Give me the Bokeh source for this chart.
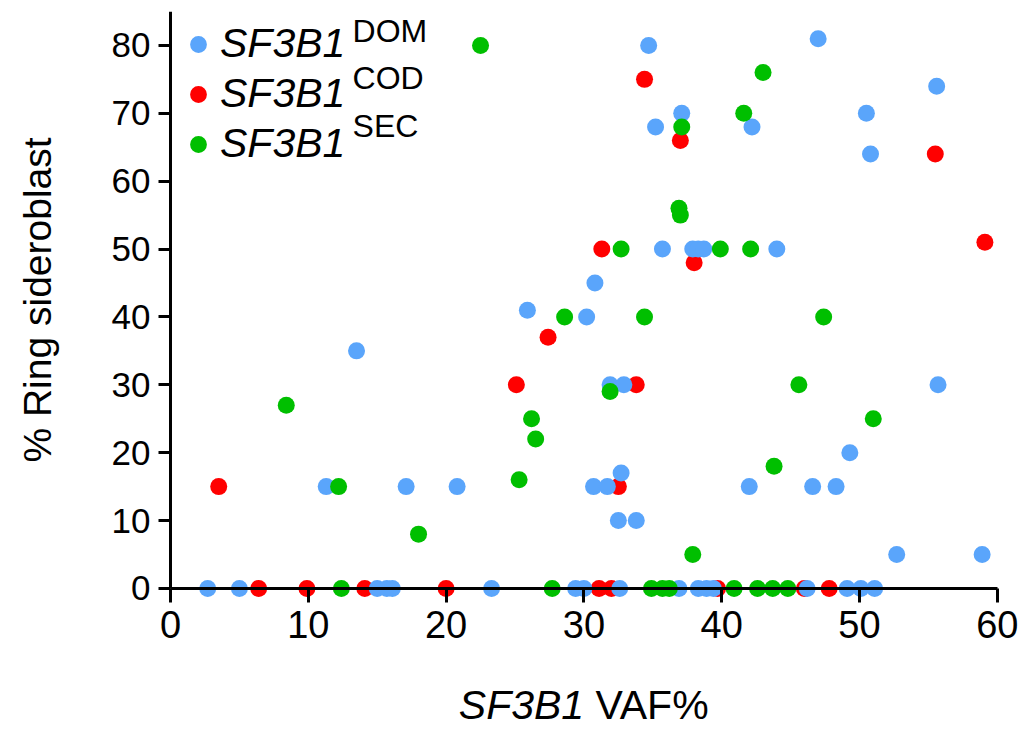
from bokeh.plotting import figure
from bokeh.models import Range1d, Legend, LegendItem, Label, FixedTicker
from bokeh.embed import file_html
from bokeh.resources import INLINE

# ---- data ----
dom_vaf = [34.7, 47.0, 55.6, 37.1, 50.5, 35.2, 42.2, 50.8,
           35.7, 37.9, 38.3, 38.7, 44.0, 30.8, 25.9, 30.2,
           13.5, 31.9, 32.9, 55.7, 49.3, 32.7,
           11.3, 17.1, 20.8, 30.7, 31.7, 42.0, 46.6, 48.3,
           32.5, 33.8, 52.7, 58.9,
           2.7, 5.0, 15.0, 15.7, 16.1, 23.3, 29.4, 30.0, 32.6, 36.9,
           38.3, 38.9, 39.4, 46.2, 49.1, 50.1, 51.1]
dom_rs = [80, 81, 74, 70, 70, 68, 68, 64,
          50, 50, 50, 50, 50, 45, 41, 40,
          35, 30, 30, 30, 20, 17,
          15, 15, 15, 15, 15, 15, 15, 15,
          10, 10, 5, 5,
          0, 0, 0, 0, 0, 0, 0, 0, 0, 0,
          0, 0, 0, 0, 0, 0, 0]

cod_vaf = [34.4, 37.0, 55.5, 59.1, 31.3, 38.0, 27.4, 25.1, 33.8, 3.5, 32.5,
           6.4, 9.9, 14.1, 20.0, 31.1, 32.0, 39.7, 46.0, 47.8]
cod_rs = [75, 66, 64, 51, 50, 48, 37, 30, 30, 15, 15,
          0, 0, 0, 0, 0, 0, 0, 0, 0]

sec_vaf = [22.5, 43.0, 41.6, 37.1, 36.9, 37.0, 32.7, 39.9, 42.1, 28.6, 34.4,
           47.4, 45.6, 31.9, 8.4, 26.2, 51.0, 26.5, 43.8, 25.3, 12.2, 18.0, 37.9,
           12.4, 27.7, 34.9, 35.7, 36.2, 40.9, 42.6, 43.7, 44.8]
sec_rs = [80, 76, 70, 68, 56, 55, 50, 50, 50, 40, 40,
          40, 30, 29, 27, 25, 25, 22, 18, 16, 15, 8, 5,
          0, 0, 0, 0, 0, 0, 0, 0, 0]

x_ticks = [0, 10, 20, 30, 40, 50, 60]
y_ticks = [0, 10, 20, 30, 40, 50, 60, 70, 80]

series_names = ["SF3B1", "SF3B1", "SF3B1"]
series_sup = ["DOM", "COD", "SEC"]
colors = ["#5aa5fb", "#ff0000", "#00bf00"]

FONT = "Liberation Sans"

p = figure(frame_width=1017, frame_height=717,
           x_range=Range1d(-11.974, 61.829), y_range=Range1d(-20.636, 85),
           min_border_left=5, min_border_right=3,
           min_border_top=11, min_border_bottom=6,
           output_backend="svg", toolbar_location=None)
p.outline_line_color = None
p.xgrid.visible = False
p.ygrid.visible = False

r_cod = p.scatter(cod_vaf, cod_rs, size=17, color=colors[1], line_color=None)
r_dom = p.scatter(dom_vaf, dom_rs, size=17, color=colors[0], line_color=None)
r_sec = p.scatter(sec_vaf, sec_rs, size=17, color=colors[2], line_color=None)

for ax in (p.xaxis[0], p.yaxis[0]):
    ax.axis_line_width = 3
    ax.axis_line_color = "black"
    ax.major_tick_line_width = 3
    ax.major_tick_line_color = "black"
    ax.major_tick_in = 0
    ax.minor_tick_line_color = None
    ax.major_label_text_font = FONT
    ax.major_label_text_color = "black"
    ax.fixed_location = 0

xa = p.xaxis[0]
xa.ticker = FixedTicker(ticks=x_ticks)
xa.bounds = (0, 60)
xa.major_tick_out = 14
xa.major_label_text_font_size = "38px"
xa.major_label_standoff = 9

ya = p.yaxis[0]
ya.ticker = FixedTicker(ticks=y_ticks)
ya.bounds = (0, 85)
ya.major_tick_out = 12
ya.major_label_text_font_size = "35px"
ya.major_label_standoff = 8
ya.axis_label = "% Ring sideroblast"
ya.axis_label_text_font = FONT
ya.axis_label_text_font_style = "normal"
ya.axis_label_text_font_size = "39px"
ya.axis_label_text_color = "black"
ya.axis_label_standoff = 50

legend = Legend(items=[LegendItem(label=series_names[0], renderers=[r_dom]),
                       LegendItem(label=series_names[1], renderers=[r_cod]),
                       LegendItem(label=series_names[2], renderers=[r_sec])],
                location=(172, 561), orientation="vertical",
                glyph_width=42, glyph_height=42, label_height=46,
                spacing=3, padding=0, margin=0, label_standoff=1,
                border_line_color=None, background_fill_alpha=0,
                label_text_font=FONT, label_text_font_style="italic",
                label_text_font_size="41px", label_text_color="black")
p.add_layout(legend)

sup_y = [82.06, 75.14, 68.07]
for s, yy in zip(series_sup, sup_y):
    p.add_layout(Label(x=13.21, y=yy, text=s,
                       text_font=FONT, text_font_size="32px", text_color="black",
                       text_baseline="alphabetic", text_align="left"))

p.add_layout(Label(x=30.02, y=-17.24, text="SF3B1",
                   text_font=FONT, text_font_style="italic", text_font_size="41px",
                   text_color="black", text_baseline="alphabetic", text_align="right"))
p.add_layout(Label(x=30.84, y=-17.24, text="VAF%",
                   text_font=FONT, text_font_size="41px",
                   text_color="black", text_baseline="alphabetic", text_align="left"))

open("out.html", "w").write(file_html(p, INLINE))
